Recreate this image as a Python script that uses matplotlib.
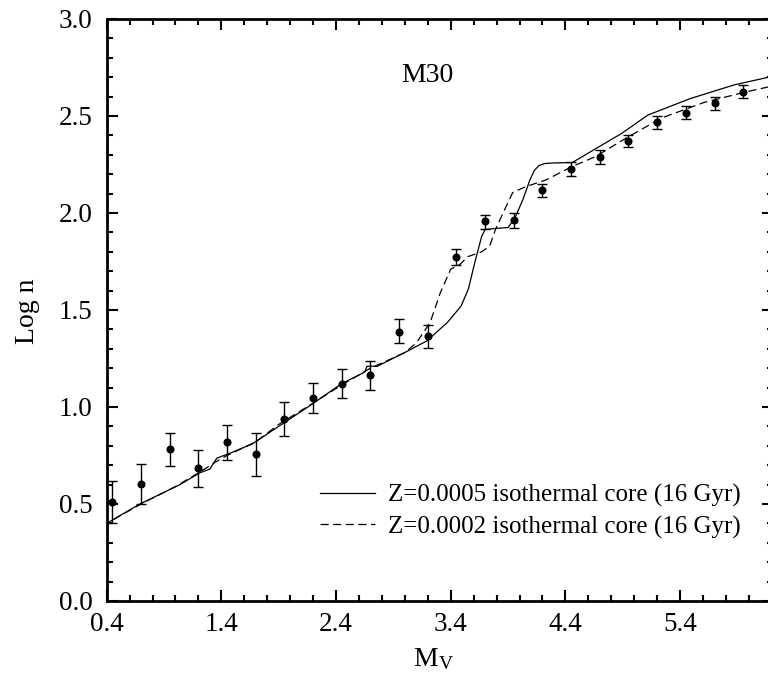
import matplotlib
matplotlib.use("Agg")
import matplotlib.pyplot as plt
from matplotlib.ticker import MultipleLocator

plt.rcParams['font.family'] = ['Liberation Serif', 'DejaVu Serif']
plt.rcParams['mathtext.fontset'] = 'stix'

# observed luminosity function of M30
mv = [0.45, 0.70, 0.95, 1.20, 1.45, 1.70, 1.95, 2.20, 2.45, 2.70, 2.95, 3.20,
      3.45, 3.70, 3.95, 4.20, 4.45, 4.70, 4.95, 5.20, 5.45, 5.70, 5.95]
logn = [0.508, 0.602, 0.782, 0.683, 0.817, 0.757, 0.940, 1.048, 1.120, 1.163, 1.388, 1.366,
        1.774, 1.957, 1.963, 2.117, 2.227, 2.287, 2.371, 2.467, 2.515, 2.565, 2.626]
logn_hi = [0.619, 0.705, 0.868, 0.777, 0.907, 0.868, 1.026, 1.126, 1.198, 1.237, 1.451, 1.423,
           1.812, 1.992, 2.000, 2.151, 2.263, 2.323, 2.403, 2.498, 2.549, 2.596, 2.661]
logn_lo = [0.400, 0.500, 0.696, 0.588, 0.727, 0.645, 0.851, 0.971, 1.045, 1.088, 1.331, 1.306,
           1.734, 1.920, 1.923, 2.081, 2.192, 2.254, 2.338, 2.434, 2.484, 2.532, 2.595]

# Z=0.0005 model
z5_x = [0.40, 0.69, 1.04, 1.21, 1.30, 1.36, 1.49, 1.67, 1.90, 2.18, 2.44, 2.65, 2.67, 2.76,
        3.02, 3.19, 3.37, 3.49, 3.555, 3.61, 3.67, 3.70, 3.79, 3.90, 3.96, 4.03, 4.09, 4.13,
        4.17, 4.22, 4.30, 4.46, 4.66, 4.89, 5.12, 5.49, 5.87, 6.21]
z5_y = [0.40, 0.50, 0.60, 0.66, 0.68, 0.736, 0.765, 0.81, 0.90, 1.01, 1.117, 1.18, 1.21, 1.21,
        1.287, 1.34, 1.435, 1.52, 1.61, 1.745, 1.88, 1.915, 1.92, 1.925, 1.975, 2.07, 2.17, 2.22,
        2.245, 2.255, 2.258, 2.26, 2.33, 2.41, 2.505, 2.59, 2.66, 2.705]

# Z=0.0002 model
z2_x = [0.46, 0.70, 1.00, 1.20, 1.36, 1.45, 1.70, 1.90, 2.20, 2.44, 2.70, 3.00, 3.10, 3.22,
        3.31, 3.40, 3.48, 3.55, 3.67, 3.74, 3.79, 3.88, 3.94, 4.05, 4.23, 4.46, 4.66, 4.94,
        5.24, 5.61, 5.98, 6.21]
z2_y = [0.42, 0.50, 0.59, 0.66, 0.72, 0.75, 0.82, 0.91, 1.02, 1.11, 1.20, 1.28, 1.33, 1.435,
        1.59, 1.71, 1.735, 1.775, 1.80, 1.83, 1.915, 2.03, 2.105, 2.135, 2.17, 2.24, 2.29, 2.39,
        2.49, 2.57, 2.625, 2.655]

fig = plt.figure(figsize=(7.68, 6.83), dpi=100)
ax = fig.add_axes([0.1389, 0.1201, 0.8676, 0.8521])

ax.plot(z5_x, z5_y, color='black', lw=0.9,
        label='Z=0.0005 isothermal core (16 Gyr)')
ax.plot(z2_x, z2_y, color='black', lw=0.9, linestyle=(0, (6.5, 3.6)),
        label='Z=0.0002 isothermal core (16 Gyr)')

yerr = [[y - lo for y, lo in zip(logn, logn_lo)],
        [hi - y for y, hi in zip(logn, logn_hi)]]
ax.errorbar(mv, logn, yerr=yerr, fmt='o', color='black', ms=4.8,
            elinewidth=1, capsize=3.8, capthick=1)

ax.set_xlim(0.4, 6.21)
ax.set_ylim(0.0, 3.0)
ax.xaxis.set_minor_locator(MultipleLocator(0.2))
ax.yaxis.set_major_locator(MultipleLocator(0.5))
ax.yaxis.set_minor_locator(MultipleLocator(0.1))
ax.set_xticks([0.4, 1.4, 2.4, 3.4, 4.4, 5.4])
ax.set_xticklabels(['0.4', '1.4', '2.4', '3.4', '4.4', '5.4'])
ax.set_yticks([0.0, 0.5, 1.0, 1.5, 2.0, 2.5, 3.0])
ax.set_yticklabels(['0.0', '0.5', '1.0', '1.5', '2.0', '2.5', '3.0'])

ax.tick_params(which='both', direction='in', top=True, right=True,
               labelsize=19.5, width=1.5)
ax.tick_params(axis='y', pad=10)
ax.tick_params(axis='x', pad=8)
ax.tick_params(which='major', length=8)
ax.tick_params(which='minor', length=4)
for s in ax.spines.values():
    s.set_linewidth(2)

ax.set_xlabel(r'M$_\mathregular{V}$', fontsize=20)
ax.set_ylabel('Log n', fontsize=20)
ax.xaxis.set_label_coords(0.49, -0.079)
ax.yaxis.set_label_coords(-0.100, 0.497)

ax.text(3.2, 2.71, 'M30', fontsize=20, ha='center', va='center')

ax.legend(loc='upper left', bbox_to_anchor=(0.305, 0.218), frameon=False,
          fontsize=18, handlelength=2.2, handletextpad=0.52, labelspacing=0.33,
          borderaxespad=0)

fig.savefig('out.png', dpi=100)
